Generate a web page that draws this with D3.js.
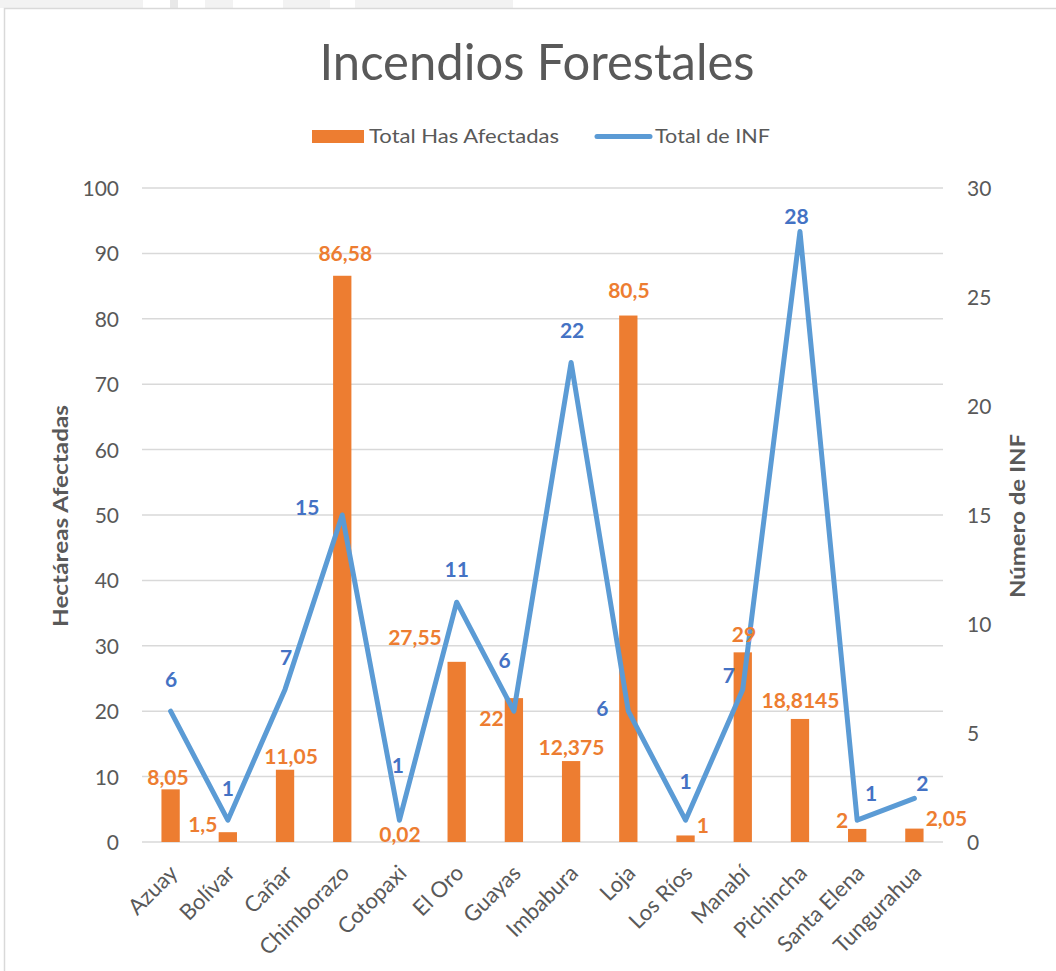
<!DOCTYPE html>
<html><head><meta charset="utf-8">
<script src="https://cdn.jsdelivr.net/npm/d3@7"></script>
<style>
html,body{margin:0;padding:0;background:#fff;}
svg{display:block;font-family:Lato,"Open Sans",sans-serif;}
</style></head>
<body>
<svg id="chart" width="1056" height="971"></svg>
<script>
// ---- data ----
const categories = ["Azuay","Bolívar","Cañar","Chimborazo","Cotopaxi","El Oro","Guayas","Imbabura","Loja","Los Ríos","Manabí","Pichincha","Santa Elena","Tungurahua"];
const hectareas = [8.05,1.5,11.05,86.58,0.02,27.55,22,12.375,80.5,1,29,18.8145,2,2.05];
const numINF = [6,1,7,15,1,11,6,22,6,1,7,28,1,2];
const leftTicks = [0,10,20,30,40,50,60,70,80,90,100];
const rightTicks = [0,5,10,15,20,25,30];
const titleText = "Incendios Forestales";
const seriesNames = ["Total Has Afectadas","Total de INF"];
const axisTitles = ["Hectáreas Afectadas","Número de INF"];

// ---- label placement (layout, [dx, dy]) ----
const barLabelOffset = [[-2.6,-4.4],[-25,0],[6,-5.7],[3,-15],[0.5,0],[-41.7,-17],[-22.4,28],[0.4,-6],[0.6,-17.5],[17.4,-2.5],[1.2,-10],[0.5,-11],[-15,-1],[32,-2.6]];
const lineLabelOffset = [[0.4,-24],[0,-24],[1,-24],[-35,0],[-1.5,-47],[0,-25],[-9.4,-43],[1,-24],[-26,5],[0,-31],[-14,-6],[-3.5,-8],[14,-19],[8,-7]];

const fmt = v => String(v).replace(".", ",");
const svg = d3.select("#chart");
const W = 1056, H = 971;
const C = {orange:"#ed7d31", blue:"#5b9bd5", blueText:"#4472c4", text:"#595959", grid:"#d9d9d9"};

// background strip (slide background behind chart box)
const strips = [[0,143,"#f2f2f2"],[170,178,"#e8e8e8"],[205,233,"#f2f2f2"],[283,330,"#f2f2f2"],[355,513,"#f2f2f2"]];
svg.append("g").selectAll("rect").data(strips).join("rect")
  .attr("x", d=>d[0]).attr("y",0).attr("width", d=>d[1]-d[0]).attr("height",8).attr("fill", d=>d[2]);
svg.append("rect").attr("x",4.5).attr("y",8.5).attr("width",W+10).attr("height",H+10)
  .attr("fill","#fff").attr("stroke","#d9d9d9").attr("stroke-width",1.5);

// scales
const plot = {left:142, right:943, top:188, bottom:842};
const x = d3.scaleBand().domain(categories).range([plot.left, plot.right]).paddingInner(0.68).paddingOuter(0.34);
const xc = c => x(c) + x.bandwidth()/2;
const yL = d3.scaleLinear().domain([0,100]).range([plot.bottom, plot.top]);
const yR = d3.scaleLinear().domain([0,30]).range([plot.bottom, plot.top]);

// gridlines
svg.append("g").selectAll("line").data(leftTicks).join("line")
  .attr("x1", plot.left).attr("x2", plot.right)
  .attr("y1", d=>yL(d)).attr("y2", d=>yL(d))
  .attr("stroke", C.grid).attr("stroke-width",1.5);

// left axis
const axL = svg.append("g").attr("transform",`translate(${plot.left},0)`)
  .call(d3.axisLeft(yL).tickValues(leftTicks).tickSize(0).tickPadding(23));
axL.select(".domain").remove();
axL.selectAll("text").attr("fill",C.text).style("font-size","21px").style("font-family","Lato").attr("dy","0.36em");

// right axis
const axR = svg.append("g").attr("transform",`translate(${plot.right},0)`)
  .call(d3.axisRight(yR).tickValues(rightTicks).tickSize(0).tickPadding(24));
axR.select(".domain").remove();
axR.selectAll("text").attr("fill",C.text).style("font-size","21px").style("font-family","Lato").attr("dy","0.36em");

// bottom axis
const axB = svg.append("g").attr("transform",`translate(0,${plot.bottom})`)
  .call(d3.axisBottom(x).tickSize(0).tickPadding(0));
axB.select(".domain").remove();
axB.selectAll("text")
  .attr("fill",C.text).style("font-size","22px").style("font-family","Lato")
  .attr("text-anchor","end")
  .attr("transform","translate(3,27) rotate(-45)")
  .attr("dy","0.35em").attr("y",0);

// bars
svg.append("g").selectAll("rect").data(hectareas).join("rect")
  .attr("x",(d,i)=>x(categories[i])).attr("width",x.bandwidth())
  .attr("y",d=>yL(d)).attr("height",d=>plot.bottom-yL(d))
  .attr("fill",C.orange);

// line
const line = d3.line().x((d,i)=>xc(categories[i])).y(d=>yR(d));
svg.append("path").datum(numINF).attr("d",line)
  .attr("fill","none").attr("stroke",C.blue).attr("stroke-width",5)
  .attr("stroke-linejoin","round").attr("stroke-linecap","round");

// bar labels
svg.append("g").selectAll("text").data(hectareas).join("text")
  .attr("x",(d,i)=>xc(categories[i])+barLabelOffset[i][0])
  .attr("y",(d,i)=>yL(d)+barLabelOffset[i][1])
  .attr("text-anchor","middle").attr("fill",C.orange)
  .style("font-size","21px").style("font-weight","bold").style("font-family","Lato")
  .text(d=>fmt(d));

// line labels
svg.append("g").selectAll("text").data(numINF).join("text")
  .attr("x",(d,i)=>xc(categories[i])+lineLabelOffset[i][0])
  .attr("y",(d,i)=>yR(d)+lineLabelOffset[i][1])
  .attr("text-anchor","middle").attr("fill",C.blueText)
  .style("font-size","21px").style("font-weight","bold").style("font-family","Lato")
  .text(d=>fmt(d));

// title
svg.append("text").attr("x",537).attr("y",80).attr("text-anchor","middle")
  .attr("fill",C.text).style("font-size","50px").style("font-family","Lato")
  .attr("textLength",435).attr("lengthAdjust","spacingAndGlyphs")
  .text(titleText);

// legend
const lg = svg.append("g");
lg.append("rect").attr("x",312).attr("y",130).attr("width",52).attr("height",13).attr("fill",C.orange);
lg.append("text").attr("x",369).attr("y",143).attr("fill",C.text).style("font-size","20px").style("font-family","Lato")
  .attr("textLength",190).attr("lengthAdjust","spacingAndGlyphs").text(seriesNames[0]);
lg.append("line").attr("x1",597).attr("x2",650).attr("y1",136.5).attr("y2",136.5)
  .attr("stroke",C.blue).attr("stroke-width",5).attr("stroke-linecap","round");
lg.append("text").attr("x",655).attr("y",143).attr("fill",C.text).style("font-size","20px").style("font-family","Lato")
  .attr("textLength",115).attr("lengthAdjust","spacingAndGlyphs").text(seriesNames[1]);

// axis titles
svg.append("text").attr("transform","translate(68,516) rotate(-90)").attr("text-anchor","middle")
  .attr("fill",C.text).style("font-size","21px").style("font-weight","bold").style("font-family","Lato")
  .attr("textLength",222).attr("lengthAdjust","spacingAndGlyphs").text(axisTitles[0]);
svg.append("text").attr("transform","translate(1025,516) rotate(-90)").attr("text-anchor","middle")
  .attr("fill",C.text).style("font-size","21px").style("font-weight","bold").style("font-family","Lato")
  .attr("textLength",164).attr("lengthAdjust","spacingAndGlyphs").text(axisTitles[1]);
</script>
</body></html>
